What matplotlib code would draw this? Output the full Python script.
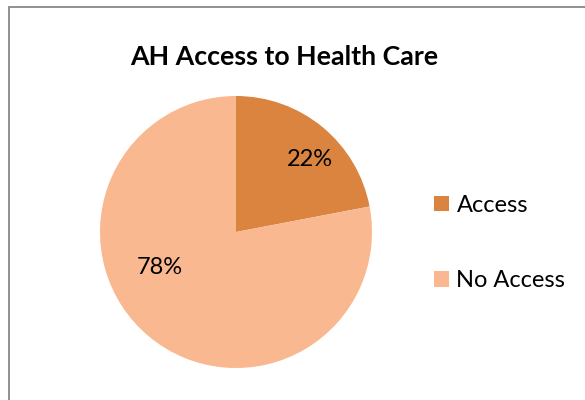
import matplotlib.pyplot as plt
from matplotlib.patches import Rectangle

# data
labels = ['Access', 'No Access']
shares = [22, 78]
colors = ['#DA843F', '#F9B890']

W, H = 585, 400
plt.rcParams['font.family'] = ['Lato', 'DejaVu Sans']

fig = plt.figure(figsize=(W / 100, H / 100), dpi=100)

# chart frame (cut by the picture edge on the right and bottom)
fig.patches.append(Rectangle((8.5 / W, -0.05), 1.2, 1 - 7 / H + 0.05,
                             transform=fig.transFigure, fill=False,
                             edgecolor='#888888', linewidth=1.3))

# pie centred at (236, 232) px, radius 136 px
cx, cy, r = 236, 232, 136
ax = fig.add_axes([(cx - r) / W, (H - cy - r) / H, 2 * r / W, 2 * r / H])
wedges, texts, autotexts = ax.pie(shares, colors=colors, startangle=90,
                                  counterclock=False, radius=1,
                                  autopct='%1.0f%%', pctdistance=0.7,
                                  textprops={'fontsize': 17, 'color': 'black'},
                                  wedgeprops={'linewidth': 0})
ax.set_xlim(-1, 1)
ax.set_ylim(-1, 1)
ax.set_aspect('equal')

# Excel-like label placement
label_pos = [(74 / r, 72 / r), (-76 / r, -36 / r)]
for t, p in zip(autotexts, label_pos):
    t.set_position(p)
    t.set_ha('center')
    t.set_va('center')

fig.text(284 / W, 1 - 57 / H, 'AH Access to Health Care', ha='center',
         va='center', fontsize=19.3, fontweight='bold')

fig.legend(wedges, labels, loc='center left',
           bbox_to_anchor=(434 / W, 1 - 243 / H), frameon=False,
           borderpad=0, borderaxespad=0,
           fontsize=17, handlelength=0.65, handleheight=0.65,
           handletextpad=0.3, labelspacing=2.3)

fig.savefig('out.png', dpi=100)
